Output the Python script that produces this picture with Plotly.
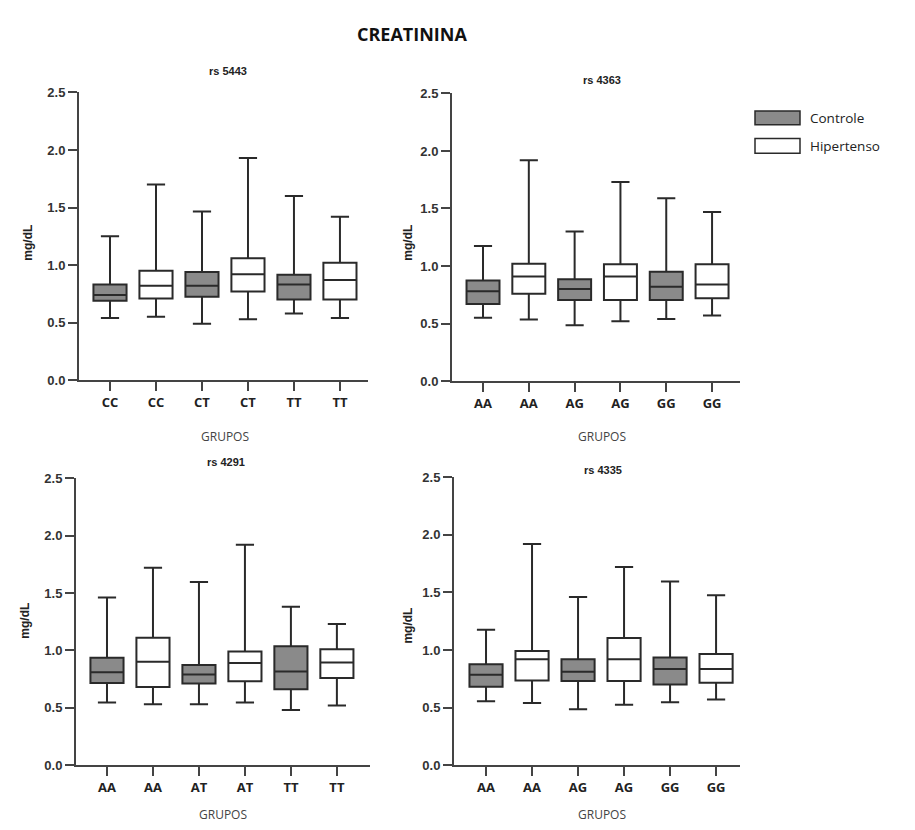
import plotly.graph_objects as go

# ---------------- data ----------------
panel_titles = ["rs 5443", "rs 4363", "rs 4291", "rs 4335"]
panel_cats = [
    ["CC", "CC", "CT", "CT", "TT", "TT"],
    ["AA", "AA", "AG", "AG", "GG", "GG"],
    ["AA", "AA", "AT", "AT", "TT", "TT"],
    ["AA", "AA", "AG", "AG", "GG", "GG"],
]
# order within each panel: ctrl, hip, ctrl, hip, ctrl, hip
lower_p1 = [0.54, 0.55, 0.49, 0.53, 0.58, 0.54]
q1_p1 = [0.69, 0.71, 0.725, 0.77, 0.70, 0.70]
med_p1 = [0.74, 0.82, 0.82, 0.92, 0.83, 0.87]
q3_p1 = [0.83, 0.95, 0.94, 1.06, 0.915, 1.02]
upper_p1 = [1.25, 1.70, 1.465, 1.93, 1.60, 1.42]

lower_p2 = [0.55, 0.535, 0.485, 0.52, 0.54, 0.57]
q1_p2 = [0.67, 0.76, 0.705, 0.705, 0.705, 0.72]
med_p2 = [0.78, 0.91, 0.80, 0.91, 0.82, 0.84]
q3_p2 = [0.875, 1.02, 0.885, 1.015, 0.95, 1.015]
upper_p2 = [1.175, 1.92, 1.30, 1.73, 1.59, 1.47]

lower_p3 = [0.545, 0.53, 0.53, 0.545, 0.48, 0.52]
q1_p3 = [0.715, 0.68, 0.71, 0.73, 0.66, 0.76]
med_p3 = [0.81, 0.90, 0.79, 0.89, 0.815, 0.895]
q3_p3 = [0.935, 1.11, 0.873, 0.99, 1.035, 1.01]
upper_p3 = [1.46, 1.72, 1.595, 1.92, 1.38, 1.23]

lower_p4 = [0.555, 0.54, 0.485, 0.525, 0.545, 0.57]
q1_p4 = [0.68, 0.735, 0.73, 0.73, 0.70, 0.715]
med_p4 = [0.785, 0.92, 0.81, 0.92, 0.835, 0.835]
q3_p4 = [0.875, 0.99, 0.92, 1.105, 0.935, 0.965]
upper_p4 = [1.175, 1.92, 1.46, 1.72, 1.595, 1.475]

stats = [
    (lower_p1, q1_p1, med_p1, q3_p1, upper_p1),
    (lower_p2, q1_p2, med_p2, q3_p2, upper_p2),
    (lower_p3, q1_p3, med_p3, q3_p3, upper_p3),
    (lower_p4, q1_p4, med_p4, q3_p4, upper_p4),
]
groups = ["Controle", "Hipertenso"]
y_ticks = [0.0, 0.5, 1.0, 1.5, 2.0, 2.5]

# ---------------- style / layout ----------------
W, H = 915, 830
FONT = "Liberation Sans"
TXT = "#222222"
AX = "#444444"
fills = {"Controle": "#8a8a8a", "Hipertenso": "#ffffff"}
LINE = "#2a2a2a"

# plot areas in pixels: (x0, x1, ytop, ybottom)
areas = [
    (79, 368, 87, 380),
    (452, 740, 88, 381),
    (76, 370, 480, 772),
    (454, 740, 479, 772),
]
xranges = [(-0.674, 5.61), (-0.677, 5.61), (-0.674, 5.72), (-0.696, 5.52)]
sub_title_pos = [(228, 65), (602, 74), (226, 463), (603, 472)]
grupos_pos = [(225, 437), (602, 437), (223, 822), (602, 822)]
ylab_pos = [(28, 240), (408, 240), (25, 625), (408, 630)]

fig = go.Figure()
layout = dict(
    width=W, height=H, margin=dict(l=0, r=0, t=0, b=0),
    paper_bgcolor="white", plot_bgcolor="white", showlegend=False,
    font=dict(family=FONT, color=TXT),
)
annotations = []
shapes = []

for p in range(4):
    sfx = "" if p == 0 else str(p + 1)
    lo, q1, me, q3, up = stats[p]
    for g_i, g in enumerate(groups):
        idx = [i for i in range(6) if i % 2 == g_i]
        fig.add_trace(go.Box(
            x=idx,
            lowerfence=[lo[i] for i in idx],
            q1=[q1[i] for i in idx],
            median=[me[i] for i in idx],
            q3=[q3[i] for i in idx],
            upperfence=[up[i] for i in idx],
            name=g, width=0.72, whiskerwidth=0.55,
            fillcolor=fills[g], line=dict(color=LINE, width=2),
            boxpoints=False, hoverinfo="skip",
            xaxis="x" + sfx, yaxis="y" + sfx,
        ))
    x0, x1, yt, yb = areas[p]
    layout["xaxis" + sfx] = dict(
        domain=[x0 / W, x1 / W], range=list(xranges[p]), anchor="y" + sfx,
        tickmode="array", tickvals=list(range(6)), ticktext=panel_cats[p],
        ticks="outside", ticklen=9, tickwidth=2, tickcolor=AX,
        showline=True, linecolor=AX, linewidth=2, showgrid=False,
        zeroline=False, tickfont=dict(family="Open Sans", size=13, color=TXT, weight="bold"),
    )
    layout["yaxis" + sfx] = dict(
        domain=[1 - yb / H, 1 - yt / H], range=[0, 2.5], anchor="x" + sfx,
        tickmode="array", tickvals=y_ticks, ticktext=[f"{v:.1f}" for v in y_ticks],
        ticks="outside", ticklen=9, tickwidth=2, tickcolor=AX,
        showline=True, linecolor=AX, linewidth=2, showgrid=False,
        zeroline=False, tickfont=dict(family=FONT, size=13, color="#333", weight="bold"),
    )
    tx, ty = sub_title_pos[p]
    annotations.append(dict(text=panel_titles[p], x=tx / W, y=1 - ty / H, xref="paper", yref="paper",
                            showarrow=False, font=dict(family=FONT, size=11, color=TXT, weight="bold"),
                            xanchor="center", yanchor="middle"))
    gx, gy = grupos_pos[p]
    annotations.append(dict(text="GRUPOS", x=gx / W, y=1 - gy / H, xref="paper", yref="paper",
                            showarrow=False, font=dict(family="Open Sans", size=12, color="#444"),
                            xanchor="center", yanchor="middle"))
    lx, ly = ylab_pos[p]
    annotations.append(dict(text="mg/dL", x=lx / W, y=1 - ly / H, xref="paper", yref="paper",
                            showarrow=False, textangle=-90,
                            font=dict(family=FONT, size=12, color=TXT, weight="bold"),
                            xanchor="center", yanchor="middle"))

# main title
annotations.append(dict(text="CREATININA", x=412 / W, y=1 - 28 / H, xref="paper", yref="paper",
                        showarrow=False, font=dict(family="Open Sans", size=18, color="#111", weight="bold"),
                        xanchor="center", yanchor="middle"))

# legend (decorative key)
leg = [("Controle", 106, 120), ("Hipertenso", 134, 149)]
for name, y0, y1 in leg:
    shapes.append(dict(type="rect", xref="paper", yref="paper",
                       x0=755 / W, x1=800 / W, y0=1 - y1 / H, y1=1 - y0 / H,
                       fillcolor=fills[name], line=dict(color=LINE, width=1.5)))
    annotations.append(dict(text=name, x=808 / W, y=1 - (y0 + y1) / 2 / H, xref="paper", yref="paper",
                            showarrow=False, xanchor="left", yanchor="middle",
                            font=dict(family="Open Sans", size=13.5, color=TXT)))

layout["annotations"] = annotations
layout["shapes"] = shapes
fig.update_layout(**layout)
fig.write_html("out.html")
